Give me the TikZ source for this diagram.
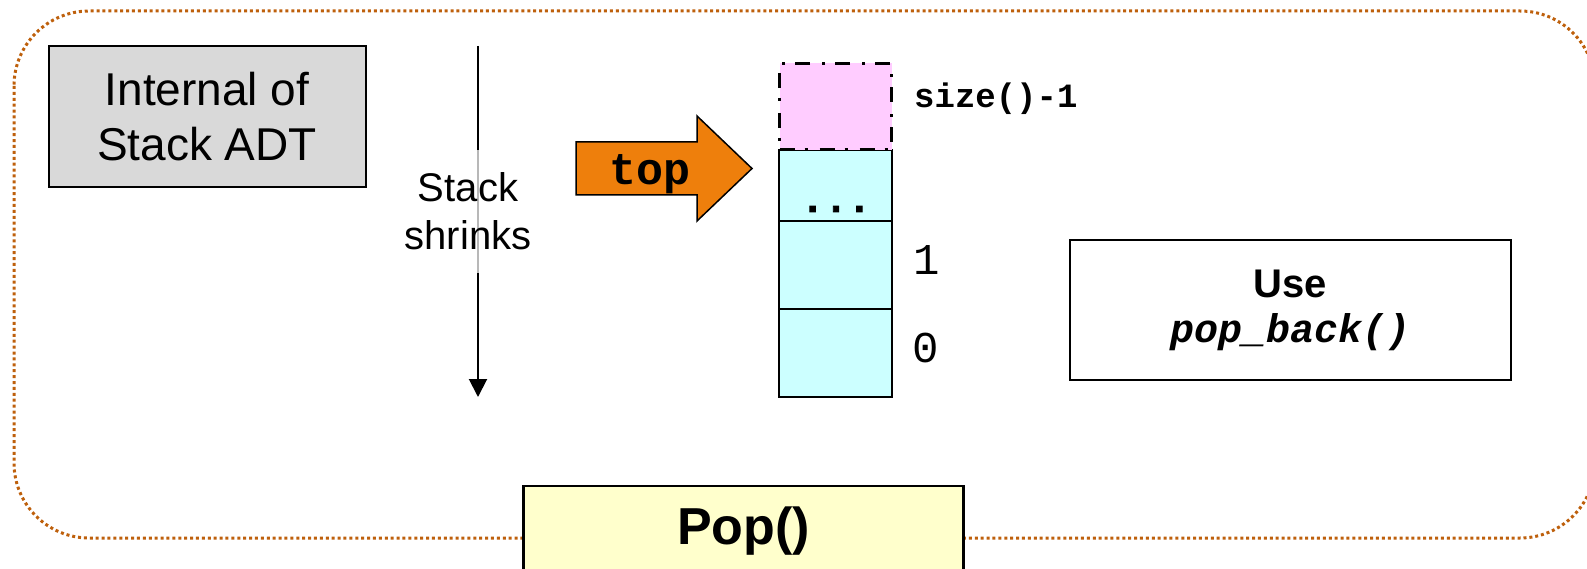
\documentclass[tikz,border=0pt]{standalone}
\usepackage{fontspec}
\setmainfont{Liberation Sans}
\setmonofont{Liberation Mono}
\newfontfamily\dotsfont[FakeBold=2.5]{Liberation Mono Bold}
\usetikzlibrary{arrows.meta}
\definecolor{framec}{RGB}{190,96,12}
\definecolor{grayfill}{RGB}{217,217,217}
\definecolor{orangefill}{RGB}{238,127,12}
\definecolor{pinkfill}{RGB}{255,204,255}
\definecolor{cyanfill}{RGB}{204,255,255}
\definecolor{yellowfill}{RGB}{255,255,204}
\newcommand{\fsz}[2]{\fontsize{#1pt}{#2pt}\selectfont}
\begin{document}
\begin{tikzpicture}[x=1pt,y=-1pt,
  frame/.style={draw=framec, line width=3pt, dash pattern=on 3pt off 2.9pt, rounded corners=75pt},
  box/.style={draw=black, line width=2pt, inner sep=0pt, outer sep=0pt, align=center},
  cell/.style={draw=black, line width=2pt, fill=cyanfill, minimum width=113pt, inner sep=0pt, outer sep=0pt},
  topcell/.style={draw=black, line width=3pt, fill=pinkfill, minimum width=112pt, inner sep=0pt, outer sep=0pt,
     dash pattern=on 15pt off 10pt on 3pt off 12pt},
  idx/.style={inner sep=0pt, font=\ttfamily\fsz{44}{50}},
  pointer/.style={draw=black, line width=1.5pt, fill=orangefill, line join=miter},
  shrink/.style={draw=black, line width=2pt, -{Triangle[length=18pt,width=18pt]}}
]
\useasboundingbox (0,0) rectangle (1587,569);
% outer dotted frame
\draw[frame] (14,11) rectangle (1595,538);
% title box
\node[box, fill=grayfill, minimum width=317pt, minimum height=141pt, font=\fsz{46}{55}]
  (internal) at (207,116.5) {Internal of\\Stack ADT};
% stack shrinks arrow
\coordinate (sstart) at (478,46);
\coordinate (send) at (478,397);
\draw[shrink] (sstart) -- (send);
\node[fill=white, fill opacity=0.72, text opacity=1, minimum height=123pt, inner xsep=2pt,
  align=center, font=\fsz{40}{48}] (shrinktxt) at (468,211.5) {Stack\\shrinks};
% stack cells
\node[cell, minimum height=71pt] (cdots) at (835.5,185.5) {};
\node[cell, minimum height=88pt] (cone) at (835.5,265) {};
\node[cell, minimum height=88pt] (czero) at (835.5,353) {};
\node[topcell, minimum height=86.5pt] (ctop) at (835.5,106.75) {};
\node[inner sep=0pt, font=\dotsfont\fsz{39}{44}] (dots) at (836,209) {...};
% index labels
\node[inner sep=0pt, anchor=west, font=\ttfamily\bfseries\fsz{34}{40}] (lsize) at (914,99) {size()-1};
\node[idx] (lone) at (927,260) {1};
\node[idx] (lzero) at (926,348) {0};
% top pointer
\draw[pointer] (576,142) -- (697,142) -- (697,116) -- (752,168.5) -- (697,221) -- (697,195) -- (576,195) -- cycle;
\node[inner sep=0pt, font=\ttfamily\bfseries\fsz{45}{50}] (toptxt) at (650,174) {top};
% use box
\node[box, fill=white, minimum width=441pt, minimum height=140pt, font=\fsz{40}{46}]
  (use) at (1290.5,310) {\bfseries Use\\[-1pt]{\ttfamily\bfseries\itshape pop\_back()}};
% pop box
\node[box, line width=2.5pt, fill=yellowfill, minimum width=440pt, minimum height=91pt,
  font=\bfseries\fsz{52}{60}] (pop) at (743.5,531.5) {Pop()};
\end{tikzpicture}
\end{document}
